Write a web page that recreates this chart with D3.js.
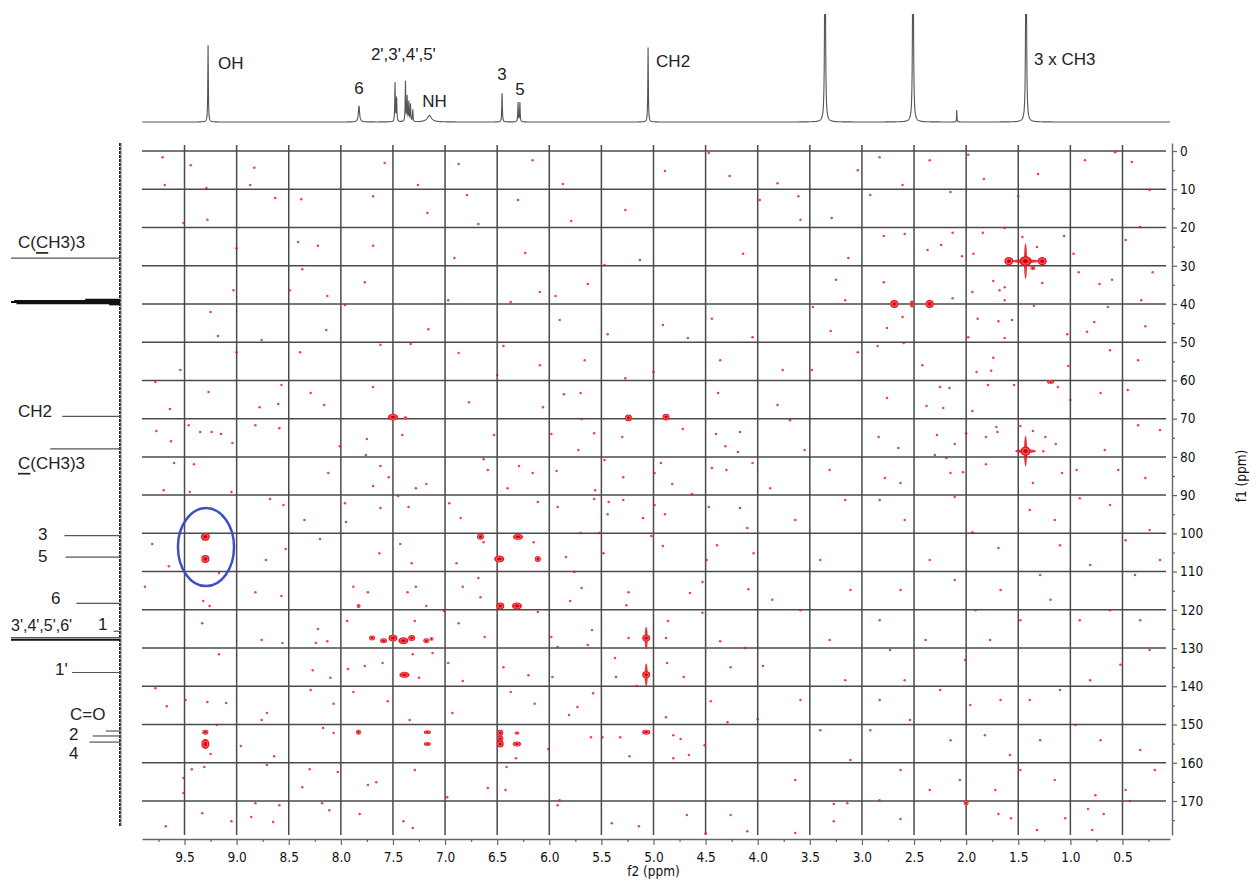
<!DOCTYPE html>
<html>
<head>
<meta charset="utf-8">
<script src="https://cdn.jsdelivr.net/npm/d3@7"></script>
<style>
  body { margin: 0; background: #fff; }
  .lab { font-family: "Liberation Sans", Arial, sans-serif; font-size: 17px; fill: #222; }
  .tick text, .axtitle { font-family: "DejaVu Sans Condensed", "DejaVu Sans", sans-serif; font-size: 13.5px; fill: #111; }
</style>
</head>
<body>
<svg id="chart" width="1256" height="882"></svg>
<script>
// ---- data (ppm) ----
const f2Ticks = [9.5, 9.0, 8.5, 8.0, 7.5, 7.0, 6.5, 6.0, 5.5, 5.0, 4.5, 4.0, 3.5, 3.0, 2.5, 2.0, 1.5, 1.0, 0.5];
const f2Minor = [9.75, 9.25, 8.75, 8.25, 7.75, 7.25, 6.75, 6.25, 5.75, 5.25, 4.75, 4.25, 3.75, 3.25, 2.75, 2.25, 1.75, 1.25, 0.75, 0.25];
const f1Ticks = [0, 10, 20, 30, 40, 50, 60, 70, 80, 90, 100, 110, 120, 130, 140, 150, 160, 170];
const f1Minor = [5, 15, 25, 35, 45, 55, 65, 75, 85, 95, 105, 115, 125, 135, 145, 155, 165, 175];

// 1H projection (top)
const protonPpm = [9.274, 7.826, 7.480, 7.465, 7.380, 7.364, 7.348, 7.332, 7.310, 7.150, 6.453, 6.300, 6.282, 5.052, 3.354, 2.510, 2.090, 1.425];
const protonInt = [0.71, 0.15, 0.36, 0.23, 0.37, 0.23, 0.18, 0.16, 0.11, 0.06, 0.29, 0.18, 0.18, 0.69, 2.5, 2.5, 0.11, 2.5];
const protonHw  = [0.003, 0.007, 0.003, 0.003, 0.003, 0.003, 0.003, 0.003, 0.003, 0.025, 0.003, 0.003, 0.003, 0.003, 0.004, 0.004, 0.002, 0.004];
const protonLabels = ["OH", "6", "2',3',4',5'", "NH", "3", "5", "CH2", "3 x CH3"];
const protonLabelPpm = [9.274, 7.826, 7.40, 7.15, 6.453, 6.29, 5.052, 1.425];

// 13C projection (left)
const carbonPpm = [28.0, 38.9, 39.2, 39.5, 39.8, 40.1, 69.4, 77.9, 100.6, 106.2, 118.3, 125.6, 127.3, 127.8, 136.4, 151.7, 153.0, 154.6];
const carbonInt = [1.0, 0.32, 0.97, 1.0, 0.95, 0.1, 0.53, 0.64, 0.51, 0.50, 0.40, 0.06, 1.0, 1.0, 0.44, 0.13, 0.25, 0.28];
const carbonLabels = ["C(CH3)3", "CH2", "C(CH3)3", "3", "5", "6", "3',4',5',6'", "1", "1'", "C=O", "2", "4"];
const carbonLabelPpm = [28.0, 69.4, 77.9, 100.6, 106.2, 118.3, 127.5, 125.6, 136.4, 151.7, 153.0, 154.6];
const carbonUnderline = [2, -1, 0, -1, -1, -1, -1, -1, -1, -1, -1, -1];

// HMBC cross peaks: f2, f1, linewidths (ppm)
const crossF2 = [9.30, 9.30, 9.30, 9.30, 7.83, 7.83, 7.50, 7.38, 7.70, 7.59, 7.50, 7.40, 7.32, 7.18, 7.13, 7.39, 7.17, 7.17, 6.66, 6.48, 6.30, 6.11, 6.47, 6.31, 6.47, 6.47, 6.47, 6.31, 6.31, 5.24, 4.88, 5.07, 5.07, 5.07, 2.69, 2.52, 2.35, 1.59, 1.43, 1.27, 1.36, 1.19, 1.43, 2.00];
const crossF1 = [100.9, 106.7, 152.0, 155.1, 119.0, 152.0, 69.6, 69.8, 127.4, 128.1, 127.4, 128.1, 127.4, 128.1, 127.6, 137.0, 152.0, 155.1, 100.9, 106.7, 100.9, 106.7, 119.0, 119.0, 152.2, 153.7, 155.1, 152.2, 155.1, 69.8, 69.6, 127.4, 137.0, 152.0, 40.0, 40.0, 40.0, 28.8, 28.8, 28.8, 30.6, 60.4, 78.5, 170.5];
const crossW2 = [0.086, 0.077, 0.058, 0.077, 0.038, 0.048, 0.096, 0.038, 0.058, 0.067, 0.086, 0.096, 0.067, 0.058, 0.038, 0.096, 0.067, 0.067, 0.067, 0.096, 0.096, 0.058, 0.077, 0.096, 0.058, 0.058, 0.067, 0.048, 0.077, 0.067, 0.067, 0.077, 0.077, 0.077, 0.077, 0.038, 0.077, 0.086, 0.115, 0.086, 0.048, 0.067, 0.096, 0.048];
const crossW1 = [2.1, 2.1, 1.3, 2.6, 1.0, 1.3, 1.8, 0.8, 1.3, 1.3, 1.8, 1.8, 1.6, 1.3, 1.0, 1.6, 1.0, 1.0, 1.6, 1.8, 1.6, 1.6, 1.8, 1.8, 1.6, 1.6, 1.8, 0.8, 1.3, 1.8, 1.8, 1.8, 1.8, 1.3, 2.1, 1.8, 2.1, 2.1, 2.6, 2.1, 1.0, 1.0, 2.4, 1.3];
// t1/t2 noise ridges on the strongest peaks
const ridgeF2 = [1.43, 1.43, 1.43, 1.43, 5.07, 5.07];
const ridgeF1 = [28.8, 28.8, 78.5, 78.5, 127.4, 137.0];
const ridgeW2 = [0.03, 0.25, 0.03, 0.20, 0.03, 0.03];
const ridgeW1 = [9.4, 1.0, 8.0, 1.0, 6.0, 6.0];

// small noise contours
const noiseF2 = [9.78,9.27,9.64,8.78,8.60,8.57,8.29,8.16,7.69,6.77,9.77,9.46,9.35,9.24,9.15,9.04,9.63,8.82,8.59,8.01,
7.75,7.41,7.76,9.60,9.41,9.70,9.45,9.05,8.12,7.62,7.54,7.69,7.28,7.18,6.59,8.68,8.55,8.35,7.96,7.95,
7.62,7.45,7.35,6.96,6.85,9.81,9.65,8.72,8.53,8.20,7.63,7.43,7.32,6.89,6.63,9.88,9.17,9.32,9.26,8.82,
8.57,7.88,7.74,7.36,7.28,6.83,6.68,6.66,7.18,7.01,9.33,8.22,8.76,8.56,8.24,8.13,7.94,7.29,6.87,6.62,
9.17,8.27,8.10,7.93,7.77,7.60,7.31,7.12,6.97,7.25,6.83,9.78,9.67,9.49,9.28,9.10,8.29,8.07,7.88,7.55,
6.93,7.34,8.71,8.76,9.19,8.17,8.07,8.96,8.64,9.25,9.31,9.43,9.51,8.71,8.30,8.03,8.37,7.66,7.74,7.29,
6.98,6.59,9.51,
5.86,5.70,6.06,5.69,4.38,3.81,6.53,5.98,5.57,5.30,4.72,4.40,4.17,4.31,4.19,5.72,6.63,6.29,6.16,5.93,
6.40,5.56,5.47,5.29,4.99,4.93,4.82,4.63,4.44,4.30,4.05,3.88,6.11,5.92,5.57,5.43,5.29,5.44,5.10,4.99,
4.89,4.47,4.17,4.10,6.15,5.70,5.52,5.48,5.02,4.91,5.84,4.39,4.49,4.04,5.76,5.69,5.80,5.26,5.24,4.65,
4.53,4.53,3.86,4.09,6.11,4.86,5.24,4.88,5.59,5.98,5.92,5.63,4.36,4.12,6.44,6.20,5.97,5.37,5.36,5.16,
4.87,4.71,4.26,3.95,6.37,6.14,5.73,5.58,5.81,4.88,4.45,4.29,4.00,6.01,5.49,5.32,5.60,4.81,4.74,6.41,
6.32,4.66,4.81,4.51,5.23,
2.79,2.59,2.13,1.84,1.46,1.06,2.24,2.37,2.04,1.93,1.32,0.97,0.92,0.72,2.79,1.74,1.94,1.68,1.63,1.63,
1.27,2.13,2.61,2.76,1.89,1.69,1.56,1.35,1.63,1.98,1.03,0.84,2.85,2.60,1.74,1.90,1.76,2.42,1.02,2.25,
2.16,2.38,2.22,1.94,1.79,1.54,1.12,1.00,2.76,2.84,2.65,2.28,2.11,2.30,1.70,1.71,1.81,1.36,1.24,1.14,
1.26,1.48,2.00,2.78,2.63,2.19,2.15,2.03,1.81,1.36,1.08,0.94,
9.71,9.44,9.69,9.29,8.87,8.83,9.28,9.51,9.00,8.63,8.38,8.41,8.37,8.22,9.03,8.49,8.13,9.25,9.18,9.00,
9.54,8.76,8.39,8.14,7.96,7.77,7.69,7.69,7.58,7.26,7.17,6.87,6.79,6.68,6.91,6.97,7.16,7.33,7.62,6.87,
6.44,6.37,6.09,5.94,5.63,5.90,5.47,5.44,6.23,5.79,5.87,6.16,6.30,5.27,5.13,4.91,4.67,4.44,4.14,3.98,
3.61,3.59,3.29,3.81,4.27,4.47,4.89,3.47,3.30,3.04,3.48,3.76,4.05,4.36,5.00,5.66,5.27,6.09,6.50,
1.63,1.50,1.31,0.86,0.57,0.41,0.24,0.33,0.47,0.60,0.21,0.32,0.64,0.77,0.28,0.35,0.62,0.45,0.71,0.35,
0.14,0.67,0.54,0.28,1.98,2.35,2.15,1.83,2.61,2.83,3.04,2.92,3.13,3.16,3.25,
2.83,2.59,2.11,1.94,1.69,1.39,1.15,0.91,0.62,0.47,0.24,0.14,0.38,0.81,1.10,1.29,1.67,1.91,2.11,2.35,
2.63,2.83,2.73,2.39,2.01,1.77,1.48,1.19,0.91,0.62,0.33,0.24,0.52,0.81,1.10,1.39,1.67,1.96,2.25,2.59,
2.83,2.92,2.54,2.15,1.82,1.58,1.29,0.95,0.71,0.33,0.19,0.47,0.76,1.15,1.48,1.72,2.06,2.35,2.63,2.83,
3.69,3.55,3.31,3.16,3.64,3.40,3.11,3.59,3.31,3.16,3.59,3.40,3.11,3.64,
9.68,9.33,9.05,8.86,8.82,8.65,8.59,8.18,8.11,7.82,7.40,7.31,5.92,5.40,5.14,4.68,4.26,4.10,3.64,3.27,
3.14,3.27,2.63,1.69,1.57,1.32,1.05,0.83,0.68,0.79,0.43,6.42,5.90,4.50];
const noiseF1 = [60.4,63.0,67.5,67.0,66.2,61.2,63.3,66.4,61.7,65.7,73.2,71.7,73.5,73.5,74.0,76.4,75.9,71.7,72.5,77.2,
75.3,74.3,79.5,81.6,81.9,88.7,89.2,89.2,84.2,82.4,85.3,87.6,88.2,87.1,83.4,91.0,92.6,96.5,92.1,97.0,
93.4,90.2,93.1,92.1,96.0,102.8,108.6,107.0,104.1,101.5,105.2,102.8,107.8,107.8,102.3,114.0,110.4,117.7,119.0,115.4,
116.4,114.0,115.4,115.4,114.0,114.0,111.7,116.7,119.0,120.3,123.5,125.0,127.9,128.7,128.7,128.2,122.9,122.9,123.5,127.1,
131.6,135.8,137.8,135.5,134.7,133.9,131.6,131.3,133.9,137.8,138.6,140.5,145.2,143.6,144.1,144.4,141.0,144.6,141.5,143.9,
147.0,148.8,147.0,148.8,150.1,150.9,152.2,155.6,158.3,157.7,161.1,161.7,164.0,160.6,161.7,162.4,166.4,165.1,165.8,161.9,
169.0,166.6,167.9,
63.6,63.3,67.0,70.1,63.3,66.4,74.3,74.0,73.8,74.8,72.7,74.0,73.5,77.2,78.7,78.2,80.6,82.4,84.2,83.7,
88.2,88.7,80.8,85.3,84.2,81.6,87.1,89.7,82.9,83.4,81.6,88.2,91.8,93.1,91.0,91.8,91.3,95.0,96.0,92.6,
95.0,93.1,93.4,98.6,102.3,99.9,99.9,105.2,100.7,103.3,106.2,103.1,107.0,105.2,110.1,114.3,117.7,118.8,115.4,115.6,
112.7,120.8,117.4,114.6,120.6,122.9,127.4,127.4,125.3,127.1,129.7,129.2,128.2,130.0,135.0,137.1,137.6,132.6,137.6,139.9,
133.9,137.6,135.0,134.7,141.5,144.6,145.4,141.8,147.5,148.1,143.9,149.4,148.6,156.4,153.3,153.3,153.3,152.8,153.8,161.1,
158.8,158.0,158.8,155.4,158.3,
22.2,21.7,21.4,21.4,22.5,22.2,24.6,25.9,27.5,26.9,25.1,26.9,31.7,34.8,34.3,34.0,36.9,36.4,35.6,39.0,
34.5,38.5,43.4,46.3,43.9,44.5,44.2,40.5,48.9,48.7,47.9,47.3,51.0,50.2,54.1,57.8,57.5,56.0,56.2,61.7,
62.0,66.7,67.2,68.0,61.2,61.2,61.7,65.1,64.6,74.8,77.7,74.3,76.6,79.5,73.5,72.2,74.8,73.2,74.8,76.6,
78.5,71.9,73.8,85.5,86.8,80.3,84.2,84.0,81.9,86.8,84.2,83.4,
1.6,3.7,8.9,9.7,8.9,4.4,18.0,18.8,25.4,12.3,12.6,23.8,30.9,24.8,36.4,36.4,37.9,42.1,48.4,52.6,
57.3,49.4,52.6,46.8,40.3,34.3,24.8,11.8,3.1,8.9,16.2,3.4,11.5,19.1,28.0,39.0,46.6,50.5,50.7,52.8,
51.0,39.5,36.9,37.9,34.8,44.2,29.8,47.9,26.7,18.3,8.6,2.4,12.8,15.4,28.5,45.5,48.9,43.9,26.9,12.8,
11.8,18.0,17.5,8.4,6.5,0.5,5.2,40.8,47.1,52.6,57.3,57.3,48.7,54.7,57.8,54.7,59.4,56.0,58.6,
20.1,11.8,6.0,2.4,0.3,2.9,10.2,19.9,23.3,33.7,31.7,39.0,40.8,44.7,45.8,54.7,52.1,62.5,63.3,71.7,
73.0,78.2,83.4,85.5,1.0,2.4,10.7,7.3,8.9,1.6,5.0,11.5,28.0,39.0,33.7,
91.3,96.5,90.5,99.7,103.8,93.9,96.5,90.8,92.6,101.8,99.1,107.0,110.9,108.3,103.1,110.9,114.8,120.1,112.2,107.0,
114.8,122.7,130.5,127.9,133.1,127.9,122.7,117.4,122.7,120.1,122.7,130.5,134.4,138.4,141.0,143.6,143.6,144.9,141.0,138.4,
143.6,151.5,148.8,154.1,152.8,158.0,154.1,150.1,154.1,156.7,161.9,167.1,168.5,164.5,161.9,167.1,164.5,167.1,161.9,169.8,
70.4,78.2,83.4,91.3,96.5,107.0,114.8,120.1,127.9,138.4,143.6,151.5,159.3,164.5,
176.6,173.2,175.3,174.2,170.6,175.5,171.1,170.6,172.4,173.4,175.3,177.1,171.1,175.8,176.6,173.7,173.7,177.9,178.4,170.8,
170.6,175.3,174.7,173.4,174.5,177.6,174.5,172.1,173.4,177.6,170.0,167.1,169.8,178.5];

// highlighted region (ellipse around the OH correlations)
const markF2 = 9.294, markF1 = 103.6, markW2 = 0.269, markW1 = 10.2;

// ---- layout ----
const svg = d3.select('#chart');
const x = d3.scaleLinear().domain([9.908, 0.044]).range([142, 1170]);
const y = d3.scaleLinear().domain([-2.1, 178.9]).range([143, 835]);
const yH = d3.scaleLinear().domain([0, 1]).range([122, 14]);
const xC = d3.scaleLinear().domain([0, 1]).range([120, 11]);

const defs = svg.append('defs');
defs.append('clipPath').attr('id', 'plotclip').append('rect')
  .attr('x', 142).attr('y', 143).attr('width', 1028).attr('height', 692);
defs.append('clipPath').attr('id', 'topclip').append('rect')
  .attr('x', 142).attr('y', 14).attr('width', 1028).attr('height', 120);

// grid
const grid = svg.append('g');
grid.selectAll('.vg').data(f2Ticks).enter().append('line')
  .attr('x1', d => x(d)).attr('x2', d => x(d))
  .attr('y1', 145).attr('y2', 835)
  .attr('stroke', '#4a4a4a').attr('stroke-width', 1.5);
grid.selectAll('.hg').data(f1Ticks).enter().append('line')
  .attr('x1', 142).attr('x2', 1166)
  .attr('y1', d => y(d)).attr('y2', d => y(d))
  .attr('stroke', '#4a4a4a').attr('stroke-width', 1.5);

// contours
const cg = svg.append('g').attr('clip-path', 'url(#plotclip)');
cg.selectAll('.nz').data(noiseF2).enter().append('circle')
  .attr('cx', d => x(d)).attr('cy', (d, i) => y(noiseF1[i]))
  .attr('r', 1.25).attr('fill', '#e3141c').attr('opacity', 0.8);

ridgeF2.forEach((f2, i) => {
  const cx = x(f2), cy = y(ridgeF1[i]);
  cg.append('ellipse').attr('cx', cx).attr('cy', cy)
    .attr('rx', Math.abs(x(f2 + ridgeW2[i] / 2) - cx))
    .attr('ry', Math.abs(y(ridgeF1[i] + ridgeW1[i] / 2) - cy))
    .attr('fill', '#e3141c').attr('opacity', 0.85);
});

crossF2.forEach((f2, i) => {
  const cx = x(f2), cy = y(crossF1[i]);
  const rx = Math.abs(x(f2 + crossW2[i] / 2) - cx);
  const ry = Math.abs(y(crossF1[i] + crossW1[i] / 2) - cy);
  cg.append('ellipse').attr('cx', cx).attr('cy', cy).attr('rx', rx).attr('ry', ry)
    .attr('fill', '#e8141c');
  cg.append('ellipse').attr('cx', cx).attr('cy', cy).attr('rx', rx * 0.62).attr('ry', ry * 0.62)
    .attr('fill', 'none').attr('stroke', '#ff9c9c').attr('stroke-width', 0.6);
  cg.append('ellipse').attr('cx', cx).attr('cy', cy).attr('rx', rx * 0.3).attr('ry', ry * 0.3)
    .attr('fill', '#c2000c');
});

// blue marker
svg.append('ellipse')
  .attr('cx', x(markF2)).attr('cy', y(markF1))
  .attr('rx', Math.abs(x(markF2 + markW2) - x(markF2)))
  .attr('ry', Math.abs(y(markF1 + markW1) - y(markF1)))
  .attr('fill', 'none').attr('stroke', '#3d4fc4').attr('stroke-width', 2.5);

// axes
svg.append('g').attr('transform', 'translate(0,839)')
  .call(d3.axisBottom(x).tickValues(f2Ticks).tickFormat(d3.format('.1f')).tickSize(6).tickPadding(7).tickSizeOuter(0));
svg.append('g').attr('transform', 'translate(0,839)')
  .call(d3.axisBottom(x).tickValues(f2Minor).tickFormat('').tickSize(3).tickSizeOuter(0))
  .select('.domain').remove();
svg.append('g').attr('transform', 'translate(1172,0)')
  .call(d3.axisRight(y).tickValues(f1Ticks).tickSize(5).tickPadding(3).tickSizeOuter(0));
svg.append('g').attr('transform', 'translate(1172,0)')
  .call(d3.axisRight(y).tickValues(f1Minor).tickFormat('').tickSize(3).tickSizeOuter(0))
  .select('.domain').remove();
svg.selectAll('.domain').attr('stroke', '#666').attr('stroke-width', 1.4);
svg.selectAll('.tick line').attr('stroke', '#666').attr('stroke-width', 1.2);
svg.selectAll('.tick text').attr('font-family', null).attr('font-size', null);

svg.append('text').attr('class', 'axtitle')
  .attr('x', x(5.0)).attr('y', 876).attr('text-anchor', 'middle').text('f2 (ppm)');
svg.append('text').attr('class', 'axtitle')
  .attr('transform', 'translate(1246,' + y(85) + ') rotate(-90)')
  .attr('text-anchor', 'middle').text('f1 (ppm)');

// top 1H trace
const ppmGrid = d3.range(0.044, 9.908, 0.002);
const trace = ppmGrid.map(p => {
  let s = 0;
  protonPpm.forEach((c, i) => {
    const g = protonHw[i];
    s += protonInt[i] * g * g / ((p - c) * (p - c) + g * g);
  });
  return [p, s];
});
svg.append('path')
  .attr('clip-path', 'url(#topclip)')
  .attr('d', d3.line().x(d => x(d[0])).y(d => yH(d[1]))(trace))
  .attr('fill', 'none').attr('stroke', '#555').attr('stroke-width', 1.1);

const pLayout = [
  { a: 'start', dx: 10, y: 63 }, { a: 'middle', dx: 0, y: 88 }, { a: 'middle', dx: 0, y: 54 },
  { a: 'middle', dx: 5, y: 101 }, { a: 'middle', dx: 0, y: 74 }, { a: 'middle', dx: 1, y: 89 },
  { a: 'start', dx: 8, y: 61 }, { a: 'start', dx: 8, y: 59 }
];
protonLabels.forEach((t, i) => {
  svg.append('text').attr('class', 'lab')
    .attr('x', x(protonLabelPpm[i]) + pLayout[i].dx).attr('y', pLayout[i].y)
    .attr('dominant-baseline', 'central').attr('text-anchor', pLayout[i].a).text(t);
});

// left 13C trace
svg.append('line').attr('x1', 120).attr('x2', 120).attr('y1', 143).attr('y2', 826)
  .attr('stroke', '#222').attr('stroke-width', 2).attr('stroke-dasharray', '3,1');
svg.append('line').attr('x1', 121).attr('x2', 121).attr('y1', 143).attr('y2', 826)
  .attr('stroke', '#777').attr('stroke-width', 1);
carbonPpm.forEach((c, i) => {
  const heavy = (c > 38 && c < 41) || i === 13;
  svg.append('line')
    .attr('x1', xC(0)).attr('x2', xC(carbonInt[i]))
    .attr('y1', y(c)).attr('y2', y(c))
    .attr('stroke', heavy ? '#111' : '#555')
    .attr('stroke-width', heavy ? 2 : 1.2);
});

const cLayout = [
  { x: 18, dy: -16 }, { x: 18, dy: -5 }, { x: 18, dy: 14 }, { x: 38, dy: -1 }, { x: 38, dy: -1 },
  { x: 51, dy: -5 }, { x: 11, dy: -13 }, { x: 98, dy: -7 }, { x: 55, dy: -3 }, { x: 70, dy: -17 },
  { x: 69, dy: -1 }, { x: 69, dy: 11 }
];
carbonLabels.forEach((t, i) => {
  const el = svg.append('text').attr('class', 'lab')
    .attr('x', cLayout[i].x).attr('y', y(carbonLabelPpm[i]) + cLayout[i].dy)
    .attr('dominant-baseline', 'central')
    .style('font-size', i === 6 ? '16px' : null);
  const u = carbonUnderline[i];
  if (u < 0) { el.text(t); return; }
  el.append('tspan').text(t.slice(0, u));
  el.append('tspan').style('text-decoration', 'underline').text(t.slice(u, u + 1));
  el.append('tspan').text(t.slice(u + 1));
});
</script>
</body>
</html>
